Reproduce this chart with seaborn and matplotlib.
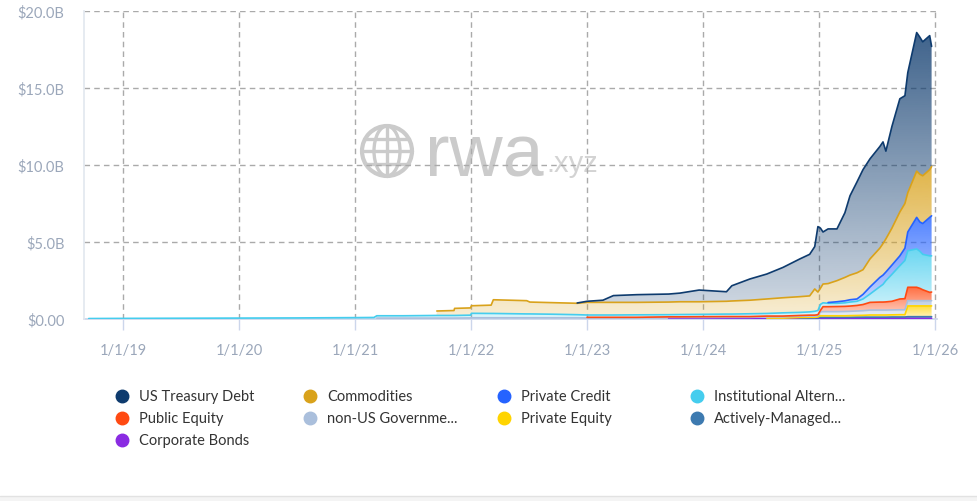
import numpy as np
import pandas as pd
import matplotlib
matplotlib.use('Agg')
import matplotlib.pyplot as plt
import matplotlib.dates as mdates
import matplotlib.colors as mcolors
from matplotlib.patches import Circle, Ellipse, Rectangle
import seaborn as sns

# ── Data (billions USD, per asset class) ──────────────────────────────
dates = pd.to_datetime([
    '2018-09-15', '2019-01-01', '2019-07-01', '2020-01-01', '2020-07-01',
    '2021-01-01', '2021-03-01', '2021-03-10', '2021-06-01', '2021-09-14',
    '2021-09-15', '2021-11-08', '2021-11-10', '2021-12-30', '2022-01-02',
    '2022-03-05', '2022-03-12', '2022-06-25', '2022-07-05', '2022-09-17',
    '2022-12-01', '2023-01-01', '2023-02-20', '2023-03-25', '2023-06-07',
    '2023-09-15', '2023-10-20', '2023-12-20', '2024-03-15', '2024-04-01',
    '2024-05-28', '2024-07-20', '2024-09-09', '2024-11-01', '2024-12-02',
    '2024-12-18', '2024-12-28', '2025-01-05', '2025-01-13', '2025-01-29',
    '2025-02-26', '2025-03-23', '2025-04-08', '2025-04-30', '2025-05-19',
    '2025-06-10', '2025-07-11', '2025-07-21', '2025-07-30', '2025-08-18',
    '2025-09-12', '2025-09-28', '2025-10-07', '2025-11-04', '2025-11-14',
    '2025-11-23', '2025-12-15', '2025-12-21'])

corp_bonds = [0, 0, 0, 0, 0, 0, 0, 0, 0, 0,
              0, 0, 0, 0, 0, 0, 0, 0, 0, 0,
              0, 0, 0, 0, 0, 0.03, 0.03, 0.03, 0.03, 0.03,
              0.03, 0.03, 0.03, 0.03, 0.03, 0.03, 0.04, 0.05, 0.05, 0.05,
              0.05, 0.05, 0.05, 0.05, 0.05, 0.05, 0.05, 0.05, 0.05, 0.05,
              0.05, 0.05, 0.05, 0.05, 0.05, 0.05, 0.05, 0.05]
actively_managed = [0, 0, 0, 0, 0, 0, 0, 0, 0, 0,
                    0, 0, 0, 0, 0, 0, 0, 0, 0, 0,
                    0, 0, 0, 0, 0, 0, 0, 0, 0, 0,
                    0, 0, 0, 0.04, 0.04, 0.04, 0.04, 0.06, 0.06, 0.06,
                    0.06, 0.06, 0.06, 0.07, 0.07, 0.07, 0.07, 0.07, 0.07, 0.08,
                    0.08, 0.08, 0.10, 0.10, 0.10, 0.10, 0.10, 0.10]
private_equity = [0, 0, 0, 0, 0, 0, 0, 0, 0, 0,
                  0, 0, 0, 0, 0, 0, 0, 0, 0, 0,
                  0, 0, 0, 0, 0, 0, 0, 0, 0, 0,
                  0, 0.03, 0.03, 0.03, 0.04, 0.04, 0.05, 0.10, 0.10, 0.10,
                  0.10, 0.10, 0.11, 0.11, 0.12, 0.14, 0.14, 0.14, 0.14, 0.14,
                  0.15, 0.15, 0.70, 0.70, 0.70, 0.70, 0.70, 0.70]
non_us_gov = [0, 0, 0, 0, 0, 0, 0, 0.06, 0.06, 0.06,
              0.06, 0.06, 0.06, 0.07, 0.08, 0.08, 0.08, 0.08, 0.08, 0.08,
              0.08, 0.07, 0.07, 0.07, 0.07, 0.07, 0.07, 0.07, 0.08, 0.08,
              0.08, 0.08, 0.08, 0.08, 0.08, 0.08, 0.09, 0.25, 0.27, 0.27,
              0.27, 0.28, 0.28, 0.29, 0.30, 0.32, 0.32, 0.32, 0.32, 0.32,
              0.32, 0.32, 0.34, 0.34, 0.34, 0.34, 0.34, 0.34]
public_equity = [0, 0, 0, 0, 0, 0, 0, 0, 0, 0,
                 0, 0, 0, 0, 0, 0, 0, 0, 0, 0,
                 0, 0.04, 0.04, 0.04, 0.04, 0.04, 0.04, 0.05, 0.05, 0.05,
                 0.05, 0.05, 0.05, 0.05, 0.06, 0.06, 0.06, 0.10, 0.32, 0.32,
                 0.33, 0.33, 0.34, 0.36, 0.40, 0.50, 0.52, 0.52, 0.53, 0.56,
                 0.70, 0.72, 0.87, 0.87, 0.80, 0.71, 0.54, 0.56]
inst_alt = [0.03, 0.04, 0.05, 0.06, 0.07, 0.09, 0.10, 0.15, 0.15, 0.17,
            0.17, 0.17, 0.17, 0.18, 0.29, 0.28, 0.28, 0.25, 0.25, 0.23,
            0.20, 0.15, 0.15, 0.15, 0.16, 0.14, 0.15, 0.15, 0.16, 0.16,
            0.18, 0.17, 0.21, 0.20, 0.21, 0.25, 0.27, 0.39, 0.25, 0.22,
            0.21, 0.23, 0.26, 0.27, 0.36, 0.54, 1.00, 1.15, 1.38, 1.75,
            2.16, 2.48, 2.37, 2.49, 2.41, 2.30, 2.37, 2.35]
private_credit = [0, 0, 0, 0, 0, 0, 0, 0, 0, 0,
                  0, 0, 0, 0, 0, 0, 0, 0, 0, 0,
                  0, 0, 0, 0, 0, 0, 0, 0, 0, 0,
                  0, 0, 0, 0, 0, 0, 0, 0, 0, 0.05,
                  0.10, 0.13, 0.15, 0.15, 0.30, 0.46, 0.60, 0.60, 0.56, 0.60,
                  0.64, 0.80, 1.22, 2.05, 1.90, 2.00, 2.50, 2.60]
commodities = [0, 0, 0, 0, 0, 0, 0, 0, 0, 0,
               0.29, 0.32, 0.46, 0.47, 0.49, 0.54, 0.89, 0.86, 0.77, 0.75,
               0.74, 0.82, 0.82, 0.82, 0.81, 0.82, 0.83, 0.82, 0.83, 0.85,
               0.88, 0.94, 0.98, 1.02, 1.04, 1.45, 1.20, 1.05, 1.22, 1.23,
               1.37, 1.52, 1.60, 1.70, 1.60, 1.82, 1.90, 2.05, 2.15, 2.40,
               2.85, 2.90, 2.55, 3.00, 3.10, 3.10, 3.10, 3.20]
us_treasury = [0, 0, 0, 0, 0, 0, 0, 0, 0, 0,
               0, 0, 0, 0, 0, 0, 0, 0, 0, 0,
               0.02, 0.07, 0.14, 0.44, 0.50, 0.52, 0.56, 0.76, 0.62, 0.99,
               1.38, 1.62, 1.97, 2.45, 2.70, 2.75, 4.25, 3.90, 3.38, 3.55,
               3.36, 4.20, 5.15, 5.90, 6.50, 6.50, 6.60, 6.60, 5.70, 6.60,
               7.35, 7.00, 7.80, 9.00, 8.90, 8.70, 8.70, 7.80]

# stack order, bottom to top
series_names = ['Corporate Bonds', 'Actively-Managed', 'Private Equity',
                'non-US Government', 'Public Equity', 'Institutional Alternative',
                'Private Credit', 'Commodities', 'US Treasury Debt']
series_colors = ['#8a2be2', '#3d7ab0', '#ffd400', '#aabfdc', '#ff4a12',
                 '#45cdee', '#2563ff', '#d9a21b', '#0e3b6e']

# legend, laid out row by row like the original
legend_labels = ['US Treasury Debt', 'Commodities', 'Private Credit', 'Institutional Altern...',
                 'Public Equity', 'non-US Governme...', 'Private Equity', 'Actively-Managed...',
                 'Corporate Bonds']
legend_colors = ['#0e3b6e', '#d9a21b', '#2563ff', '#45cdee',
                 '#ff4a12', '#aabfdc', '#ffd400', '#3d7ab0',
                 '#8a2be2']

ytick_vals = [0, 5, 10, 15, 20]
ytick_labels = ['$0.00', '$5.0B', '$10.0B', '$15.0B', '$20.0B']
xtick_dates = pd.to_datetime(['2019-01-01', '2020-01-01', '2021-01-01', '2022-01-01',
                              '2023-01-01', '2024-01-01', '2025-01-01', '2026-01-01'])
xtick_labels = ['1/1/19', '1/1/20', '1/1/21', '1/1/22', '1/1/23', '1/1/24', '1/1/25', '1/1/26']

# ── Setup ─────────────────────────────────────────────────
sns.set_theme(style='white')
plt.rcParams['font.family'] = ['Lato', 'DejaVu Sans']

W, H = 977, 502
fig = plt.figure(figsize=(W / 100, H / 100), dpi=100)
fig.patch.set_facecolor('white')

# background layer (pixel coordinates): watermark + legend
bg = fig.add_axes([0, 0, 1, 1], zorder=0)
bg.set_xlim(0, W)
bg.set_ylim(H, 0)
bg.axis('off')

wm = '#cbcbcb'
gx, gy, gr = 387, 152, 25
bg.add_patch(Circle((gx, gy), gr, fill=False, ec=wm, lw=3))
bg.add_patch(Ellipse((gx, gy), 26, 2 * gr, fill=False, ec=wm, lw=2.4))
bg.plot([gx, gx], [gy - gr, gy + gr], color=wm, lw=2.4)
bg.plot([gx - gr, gx + gr], [gy, gy], color=wm, lw=2.4)
for dy in (-12.5, 12.5):
    hw = np.sqrt(gr ** 2 - dy ** 2)
    bg.plot([gx - hw, gx + hw], [gy + dy, gy + dy], color=wm, lw=2.4)
bg.text(425, 177, 'rwa', fontsize=53, color=wm, family='Liberation Sans',
        ha='left', va='baseline')
bg.text(546, 172, '.xyz', fontsize=21, color='#d3d3d3', family='Liberation Sans',
        ha='left', va='baseline')

col_x = [122, 310, 504, 697]
row_y = [397, 419, 441]
for i, (lab, col) in enumerate(zip(legend_labels, legend_colors)):
    cx, cy = col_x[i % 4], row_y[i // 4]
    bg.plot(cx, cy, 'o', ms=9, color=col, mec=col)
    bg.text(cx + 17, cy, lab, fontsize=10.5, color='#333333', ha='left', va='center')

bg.add_patch(Rectangle((0, 497), W, 5, fc='#f4f4f4', ec='none'))
bg.plot([0, W], [497, 497], color='#e2e2e2', lw=1)

# ── Main chart ────────────────────────────────────────────
ax = fig.add_axes([84 / W, 1 - 320 / H, (937 - 84) / W, (320 - 12) / H], zorder=1)
ax.set_facecolor('none')

xnum = mdates.date2num(dates)
stack = np.array([corp_bonds, actively_managed, private_equity, non_us_gov,
                  public_equity, inst_alt, private_credit, commodities, us_treasury])
tops = stack.cumsum(axis=0)
bottoms = tops - stack

# gradient filled bands, darker at the top of each series
for i, col in enumerate(series_colors):
    if stack[i].max() <= 0:
        continue
    band = ax.fill_between(xnum, bottoms[i], tops[i], facecolor='none',
                           edgecolor='none', zorder=2)
    grad = np.zeros((256, 1, 4))
    grad[:, 0, :3] = mcolors.to_rgb(col)
    grad[:, 0, 3] = np.linspace(0.8, 0.18, 256)
    im = ax.imshow(grad, aspect='auto', origin='upper', zorder=2,
                   extent=[xnum[0], xnum[-1], 0, tops[i].max()])
    im.set_clip_path(band.get_paths()[0], transform=ax.transData)

# top edge of each series
long_df = pd.DataFrame({
    'date': np.tile(xnum, len(series_names)),
    'top': np.where(stack > 0, tops, np.nan).ravel(),
    'series': np.repeat(series_names, len(xnum)),
}).dropna()
sns.lineplot(data=long_df, x='date', y='top', hue='series', hue_order=series_names,
             palette=dict(zip(series_names, series_colors)), estimator=None,
             linewidth=1.2, legend=False, ax=ax, zorder=3)

ax.set_xlim(mdates.date2num(pd.Timestamp('2018-08-31')),
            mdates.date2num(pd.Timestamp('2026-01-07')))
ax.set_ylim(0, 20)
ax.set_xlabel('')
ax.set_ylabel('')
ax.set_xticks(mdates.date2num(xtick_dates))
ax.set_xticklabels(xtick_labels)
ax.set_yticks(ytick_vals)
ax.set_yticklabels(ytick_labels)

ax.set_axisbelow(True)
ax.grid(True, axis='both', linestyle=(0, (4, 3)), color='#aaaaaa', linewidth=1)
ax.tick_params(axis='y', length=0, pad=14, labelsize=10.5, labelcolor='#9ba7ba')
ax.tick_params(axis='x', bottom=True, length=8, width=1, color='#ccd6eb',
               pad=9, labelsize=10.5, labelcolor='#9ba7ba')
for side in ('top', 'right'):
    ax.spines[side].set_visible(False)
ax.spines['left'].set_color('#e3e8ef')
ax.spines['bottom'].set_color('#ccd6eb')
ax.spines['bottom'].set_zorder(1)

plt.savefig('out.png', dpi=100)
plt.close()
